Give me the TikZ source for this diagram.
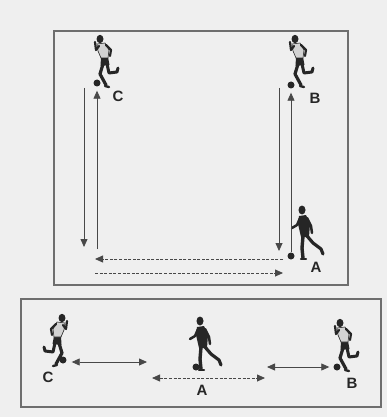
\documentclass[tikz,border=0pt]{standalone}
\usepackage{fontspec}
\setsansfont{Liberation Sans}
\usetikzlibrary{arrows.meta}

\definecolor{ink}{HTML}{262626}
\definecolor{shirt}{HTML}{D2D2D2}
\definecolor{linegray}{HTML}{484848}
\definecolor{boxgray}{HTML}{6E6E6E}
\definecolor{paper}{HTML}{EFEFEF}

\tikzset{
  >={Triangle[length=8pt,width=7pt]},
  field/.style={draw=boxgray, line width=1.2pt},
  ball/.style={circle, fill=ink, inner sep=0pt, minimum size=7pt},
  tag/.style={font=\sffamily\bfseries\fontsize{15}{15}\selectfont, text=ink, inner sep=0pt},
  passline/.style={draw=linegray, line width=0.8pt},
  dashline/.style={passline, dash pattern=on 3pt off 1.6pt},
  limb/.style={draw=ink, line width=2.6pt, line cap=round, line join=round},
  % player with light shirt, running to the left
  runner/.pic={
    \fill[ink] (1,18) -- (8,18) -- (9.5,26) -- (0.5,27) -- cycle;
    \draw[limb, line width=3.2pt] (3,25) -- (0,35) -- (6,46);
    \draw[limb, line width=2.4pt] (5,47) -- (9,48);
    \draw[limb, line width=3pt] (7,25) -- (9,34) -- (17,33) -- (18,29);
    \filldraw[fill=shirt, draw=ink, line width=0.6pt]
      (-3,5) -- (5,4) -- (9,11) -- (8,19) -- (1,19) -- (-2,12) -- cycle;
    \draw[limb, line width=2.2pt] (-1,7) -- (-4,11) -- (-5,3);
    \draw[limb, line width=2.2pt] (6,6) -- (11,11) -- (10,17);
    \fill[ink] (0,0) ellipse (3.5 and 4.2);
  },
  % dark player dribbling to the left
  dribbler/.pic={
    \fill[ink] (0,0) ellipse (3.5 and 4.5);
    \fill[ink] (-3,6) -- (4,5) -- (8,14) -- (7,27) -- (-1,27) -- (-4,14) -- cycle;
    \draw[limb, line width=2.5pt] (-2,8) -- (-5,15) -- (-10,18);
    \draw[limb, line width=2.5pt] (5,8) -- (9,16) -- (10,23);
    \draw[limb, line width=3.4pt] (1,26) -- (0,38) -- (1,48);
    \draw[limb, line width=2.4pt] (-1,49) -- (4,49);
    \draw[limb, line width=3.2pt] (5,26) -- (11,33) -- (19,39) -- (21,44);
  }
}

\begin{document}
\begin{tikzpicture}[x=1pt,y=-1pt]
\useasboundingbox[fill=paper] (0,0) rectangle (387,417);

% square drill
\draw[field] (54,31) rectangle (348,285);

\pic at (100,39) {runner};
\pic at (295,39) {runner};
\pic at (302,210) {dribbler};

\node[ball] (ballC) at (97,83) {};
\node[ball] (ballB) at (291,85) {};
\node[ball] (ballA) at (291,256) {};
\node[tag] (labC) at (118,96) {C};
\node[tag] (labB) at (315,98) {B};
\node[tag] (labA) at (316,267) {A};

\coordinate (cTop) at (84,88);
\coordinate (cBot) at (84,247);
\coordinate (cUp) at (97,249);
\coordinate (bTop) at (279,88);
\coordinate (bBot) at (279,251);
\coordinate (backR) at (283,259);
\coordinate (backL) at (95,259);
\coordinate (outL) at (95,273);
\coordinate (outR) at (283,273);

\draw[passline, ->] (cTop) -- (cBot);
\draw[passline, ->, shorten >=4pt] (cUp) -- (ballC);
\draw[passline, ->] (bTop) -- (bBot);
\draw[passline, ->, shorten >=4pt] (ballA) -- (ballB);
\draw[dashline, ->] (backR) -- (backL);
\draw[dashline, ->] (outL) -- (outR);

% line drill
\draw[field] (21,299) rectangle (381,407);

\pic[xscale=-1] at (62,318) {runner};
\pic at (200,321) {dribbler};
\pic at (340,323) {runner};

\node[ball] (ballC2) at (63,360) {};
\node[ball] (ballA2) at (196,367) {};
\node[ball] (ballB2) at (337,367) {};
\node[tag] (labC2) at (48,377) {C};
\node[tag] (labA2) at (202,390) {A};
\node[tag] (labB2) at (352,383) {B};

\coordinate (cMid) at (147,362);
\coordinate (aLeft) at (152,378);
\coordinate (aRight) at (265,378);
\coordinate (bMid) at (267,367);

\draw[passline, <->, shorten <=5pt] (ballC2.east |- cMid) -- (cMid);
\draw[dashline, <->] (aLeft) -- (aRight);
\draw[passline, <->, shorten >=4pt] (bMid) -- (ballB2);
\end{tikzpicture}
\end{document}
